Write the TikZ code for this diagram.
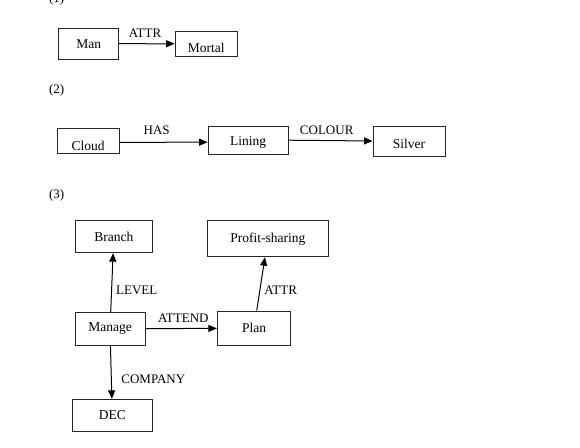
\documentclass[tikz,border=0pt]{standalone}
\usepackage{fontspec}
\setmainfont{Liberation Serif}
\usetikzlibrary{arrows.meta}
\begin{document}
\begin{tikzpicture}[x=1pt,y=-1pt,
  box/.style={draw=black!85,line width=0.9pt,inner sep=0pt,font=\fontsize{13.5}{16}\selectfont},
  lbl/.style={inner sep=0pt,font=\fontsize{13}{15}\selectfont},
  conn/.style={line width=1pt,-{Triangle[length=8.5pt,width=7pt]}}]
\useasboundingbox (0,0) rectangle (580,447);
\fill[white] (0,0) rectangle (580,447);
% section labels
\node[lbl] (n1) at (56.7,-1) {(1)};
\node[lbl] (n2) at (56.7,90) {(2)};
\node[lbl] (n3) at (56.7,195) {(3)};
% (1)
\node[box,minimum width=60,minimum height=31.3] (man) at (88.7,43.7) {Man};
\node[box,minimum width=62.3,minimum height=25.7,text height=17.3] (mortal) at (206.2,43.8) {Mortal};
\draw[conn] (man) -- (mortal);
\node[lbl] (attr1) at (145,33) {ATTR};
% (2)
\node[box,minimum width=61.7,minimum height=25,text height=19.3] (cloud) at (88.2,140.8) {Cloud};
\node[box,minimum width=80.3,minimum height=28.3,text height=13.3] (lining) at (248.2,140.2) {Lining};
\node[box,minimum width=72,minimum height=29.3,text height=15.3] (silver) at (409,141.3) {Silver};
\draw[conn] ([yshift=-1.5]cloud.east) -- ([yshift=-2]lining.west);
\draw[conn] (lining.east) -- ([yshift=0.3]silver.west);
\node[lbl] (has) at (156.7,130.7) {HAS};
\node[lbl] (colour) at (326.7,130) {COLOUR};
% (3)
\node[box,minimum width=77.7,minimum height=32] (branch) at (113.8,236.7) {Branch};
\node[box,minimum width=121,minimum height=36] (profit) at (267.8,238.7) {Profit-sharing};
\node[box,minimum width=70,minimum height=32.7] (manage) at (110,328.7) {Manage};
\node[box,minimum width=73.4,minimum height=34.7] (plan) at (254,328.3) {Plan};
\node[box,minimum width=80,minimum height=32.4] (dec) at (112.3,415.5) {DEC};
\draw[conn] (manage) -- (branch);
\draw[conn] (plan) -- (profit);
\draw[conn] (manage) -- (plan);
\draw[conn] (manage) -- (dec);
\node[lbl] (level) at (136.7,290) {LEVEL};
\node[lbl] (attr2) at (280.7,290) {ATTR};
\node[lbl] (attend) at (183.3,318.3) {ATTEND};
\node[lbl] (company) at (153.3,379) {COMPANY};
\end{tikzpicture}
\end{document}
